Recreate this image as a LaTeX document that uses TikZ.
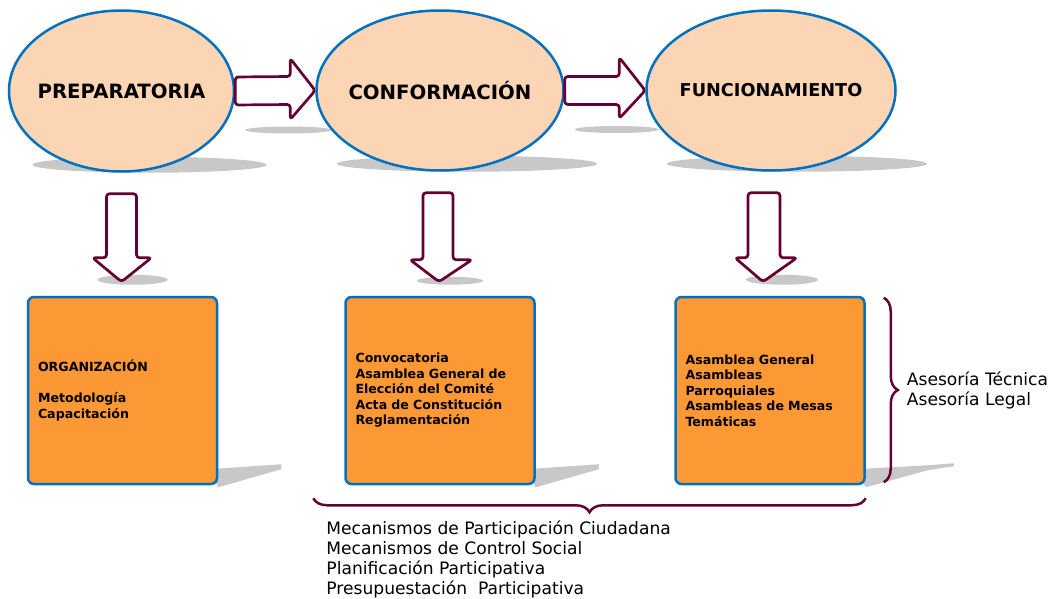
\documentclass[tikz,border=0pt]{standalone}
\usepackage{fontspec}
\setmainfont{DejaVu Sans}
\usetikzlibrary{shapes.geometric,calc,decorations.pathreplacing,backgrounds}

\definecolor{durazno}{RGB}{252,213,180}
\definecolor{azul}{RGB}{0,112,192}
\definecolor{naranja}{RGB}{253,153,53}
\definecolor{vino}{RGB}{102,0,51}
\definecolor{sombragris}{RGB}{200,200,200}

\tikzset{
  etapa/.style={ellipse,draw=azul,line width=2.5pt,fill=durazno,inner sep=0pt},
  titulo/.style={font=\bfseries\fontsize{19.7}{23}\selectfont},
  caja/.style={rectangle,rounded corners=6pt,draw=azul,line width=2.5pt,fill=naranja,
    minimum width=189pt,minimum height=187pt,text width=169pt,inner xsep=10pt,
    align=left,font=\bfseries\fontsize{12.6}{15.5}\selectfont},
  flecha/.style={draw=vino,fill=white,line width=2.7pt,line join=round,rounded corners=3pt},
  sombra/.style={fill=sombragris},
  llave/.style={draw=vino,line width=2.5pt,decorate,decoration={brace,amplitude=14pt}},
  nota/.style={align=left,inner sep=0pt,font=\fontsize{17.1}{20}\selectfont}
}

\begin{document}
\begin{tikzpicture}[x=1pt,y=-1pt]
        \useasboundingbox (0,0) rectangle (1051,599);

        % etapas
        \node[etapa,minimum width=225pt,minimum height=161pt,label={[titulo]center:PREPARATORIA}] (prep) at (121.5,91) {};
        \node[etapa,minimum width=247pt,minimum height=160pt,label={[titulo]center:CONFORMACIÓN}] (conf) at (440,90.5) {};
        \node[etapa,minimum width=249pt,minimum height=160pt,label={[titulo,font=\bfseries\fontsize{17.7}{21}\selectfont]center:FUNCIONAMIENTO}] (func) at (771,90.5) {};

        % cajas
        \node[caja] (org) at (122.5,390.5) {ORGANIZACIÓN\\[15.5pt]Metodología\\Capacitación};
        \node[caja] (constit) at (440,390.5) {Convocatoria\\Asamblea General de\\Elección del Comité\\Acta de Constitución\\Reglamentación};
        \node[caja] (asamb) at (770,390.5) {Asamblea General\\Asambleas\\Parroquiales\\Asambleas de Mesas\\Temáticas};

        % sombras
        \begin{scope}[on background layer]
        \fill[sombra] ($(prep.south)+(28,-8)$) ellipse [x radius=117, y radius=8];
        \fill[sombra] ($(conf.south)+(27,-8)$) ellipse [x radius=130, y radius=8];
        \fill[sombra] ($(func.south)+(26,-8)$) ellipse [x radius=130, y radius=8];
        \fill[sombra] ($(prep.east)+(53,39)$) ellipse [x radius=43, y radius=3.5];
        \fill[sombra] ($(conf.east)+(52,39)$) ellipse [x radius=42, y radius=3.5];
        \fill[sombra] ($(prep.south |- org.north)+(11,-16)$) ellipse [x radius=35, y radius=5];
        \fill[sombra] ($(conf.south |- constit.north)+(10,-15)$) ellipse [x radius=33, y radius=4];
        \fill[sombra] ($(func.south |- asamb.north)+(11,-16)$) ellipse [x radius=36, y radius=5];
        \fill[sombra] ($(org.south east)+(-10,-16)$) -- ++(73,-5) -- ++(0,5) -- ($(org.south east)+(0,2)$) -- cycle;
        \fill[sombra] ($(constit.south east)+(-10,-16)$) -- ++(73,-5) -- ++(0,5) -- ($(constit.south east)+(0,2)$) -- cycle;
        \fill[sombra] ($(asamb.south east)+(-10,-16)$) -- ++(72,-4) -- ++(26,-2) -- ++(0,3) -- ++(-26,4) -- ($(asamb.south east)+(0,2)$) -- cycle;
        \end{scope}

        % flechas horizontales
        \draw[flecha] ($(prep.east)+(0,-14)$) -- ($(conf.west)+(-25,-14)$) -- ($(conf.west)+(-25,-32)$) -- (conf.west)
            -- ($(conf.west)+(-25,29)$) -- ($(conf.west)+(-25,14)$) -- ($(prep.east)+(0,14)$) -- cycle;
        \draw[flecha] ($(conf.east)+(0,-14)$) -- ($(func.west)+(-26,-14)$) -- ($(func.west)+(-26,-33)$) -- (func.west)
            -- ($(func.west)+(-26,28)$) -- ($(func.west)+(-26,14)$) -- ($(conf.east)+(0,14)$) -- cycle;

        % flechas verticales
        \draw[flecha] ($(prep.south)+(-15,21)$) -- ($(prep.south |- org.north)+(-15,-38)$) -- ($(prep.south |- org.north)+(-29,-38)$)
            -- ($(prep.south |- org.north)+(0,-14)$) -- ($(prep.south |- org.north)+(30,-38)$) -- ($(prep.south |- org.north)+(15,-38)$)
            -- ($(prep.south)+(15,21)$) -- cycle;
        \draw[flecha] ($(conf.south)+(-17,21)$) -- ($(conf.south |- constit.north)+(-17,-36)$) -- ($(conf.south |- constit.north)+(-30,-36)$)
            -- ($(conf.south |- constit.north)+(-1,-14)$) -- ($(conf.south |- constit.north)+(32,-36)$) -- ($(conf.south |- constit.north)+(13,-36)$)
            -- ($(conf.south)+(13,21)$) -- cycle;
        \draw[flecha] ($(func.south)+(-23,21)$) -- ($(func.south |- asamb.north)+(-23,-38)$) -- ($(func.south |- asamb.north)+(-36,-38)$)
            -- ($(func.south |- asamb.north)+(-8,-14)$) -- ($(func.south |- asamb.north)+(26,-38)$) -- ($(func.south |- asamb.north)+(9,-38)$)
            -- ($(func.south)+(9,21)$) -- cycle;

        % llaves
        \draw[llave] ($(asamb.north east)+(18,2)$) -- ($(asamb.south east)+(18,-3)$);
        \draw[llave] ($(asamb.south east)+(0,13)$) -- ($(constit.south west)+(-31,13)$);

        \node[nota,anchor=west] (asesor) at ($(asamb.east)+(41,0)$) {Asesoría Técnica\\Asesoría Legal};
        \node[nota,anchor=north west] (mecan) at ($(constit.south west)+(-18,35)$) {Mecanismos de Participación Ciudadana\\Mecanismos de Control Social\\Planificación Participativa\\Presupuestación\ \ Participativa};
    \end{tikzpicture}
\end{document}
